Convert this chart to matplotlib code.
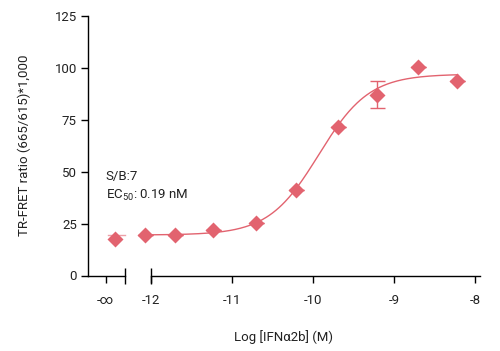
import matplotlib.pyplot as plt
import numpy as np
from matplotlib import font_manager

# fonts: a narrow sans if we have one
names = set(f.name for f in font_manager.fontManager.ttflist)
fam = 'Liberation Sans Narrow' if 'Liberation Sans Narrow' in names else 'Roboto'
plt.rcParams['font.family'] = [fam, 'DejaVu Sans']
plt.rcParams['mathtext.fontset'] = 'custom'
plt.rcParams['mathtext.rm'] = fam
plt.rcParams['mathtext.default'] = 'rm'

# data
log_conc = [-12.07, -11.70, -11.24, -10.70, -10.21, -9.69, -9.21, -8.71, -8.22]
ratio = [19.7, 19.5, 21.7, 25.1, 41.4, 71.3, 87.0, 100.5, 93.7]
ratio_err = [0, 0, 0, 0, 0, 0, 6.5, 0, 0]
zero_ratio = 17.8  # "-inf" (no IFN) well

# 4PL fit
bottom, top, log_ec50, hill = 19.5, 97.0, -9.93, 1.4

xtick_pos = [-12.56, -12, -11, -10, -9, -8]
xtick_lab = ['-\u221e', '-12', '-11', '-10', '-9', '-8']
ytick_pos = [0, 25, 50, 75, 100, 125]

red = '#e2636f'
txt = '#222222'

fig = plt.figure(figsize=(5, 3.51), dpi=100)
ax = fig.add_axes([88/500, 1 - 275.5/351, 392/500, 259.5/351])

ax.set_xlim(-12.777, -7.942)
ax.set_ylim(0, 125)

# fitted curve
xf = np.linspace(log_conc[0], log_conc[-1], 300)
yf = bottom + (top - bottom) / (1 + 10 ** ((log_ec50 - xf) * hill))
ax.plot(xf, yf, color=red, lw=1)
ax.plot([-12.53, -12.32], [bottom, bottom], color=red, lw=1, alpha=0.6)

ax.errorbar(log_conc, ratio, yerr=ratio_err, fmt='none', ecolor=red,
            elinewidth=1, capsize=5.4, capthick=1)
ax.plot(log_conc, ratio, 'D', color=red, ms=8.4, mec='none', clip_on=False)
ax.plot([-12.44], [zero_ratio], 'D', color=red, ms=8.4, mec='none', clip_on=False)

# broken x axis
ax.spines['top'].set_visible(False)
ax.spines['right'].set_visible(False)
ax.spines['bottom'].set_visible(False)
xt = ax.get_xaxis_transform()
ax.plot([-12.777, -12.32], [0, 0], color='black', lw=1, transform=xt, clip_on=False)
ax.plot([-12.0, -7.942], [0, 0], color='black', lw=1, transform=xt, clip_on=False)
ax.plot([-12.32, -12.0], [0, 0], ls='none', marker='|', ms=11, mew=1,
        color='black', transform=xt, clip_on=False)

ax.set_xticks(xtick_pos)
ax.set_xticklabels(xtick_lab)
ax.set_yticks(ytick_pos)
ax.tick_params(direction='out', length=5, width=1, labelsize=9.5, labelcolor=txt)
ax.tick_params(axis='x', pad=8)
ax.tick_params(axis='y', pad=3)
ax.spines['left'].set_linewidth(1)

ax.set_xlabel('Log [IFN\u03b12b] (M)', fontsize=9.5, labelpad=17, color=txt)
ax.set_ylabel('TR-FRET ratio (665/615)*1,000', fontsize=9.5, labelpad=17, color=txt)

ax.text(-12.56, 47.5, 'S/B:7', fontsize=9.5, va='center', color=txt)
ax.text(-12.56, 38.8, 'EC$_{50}$: 0.19 nM', fontsize=9.5, va='center', color=txt)

fig.savefig('out.png', dpi=100)
